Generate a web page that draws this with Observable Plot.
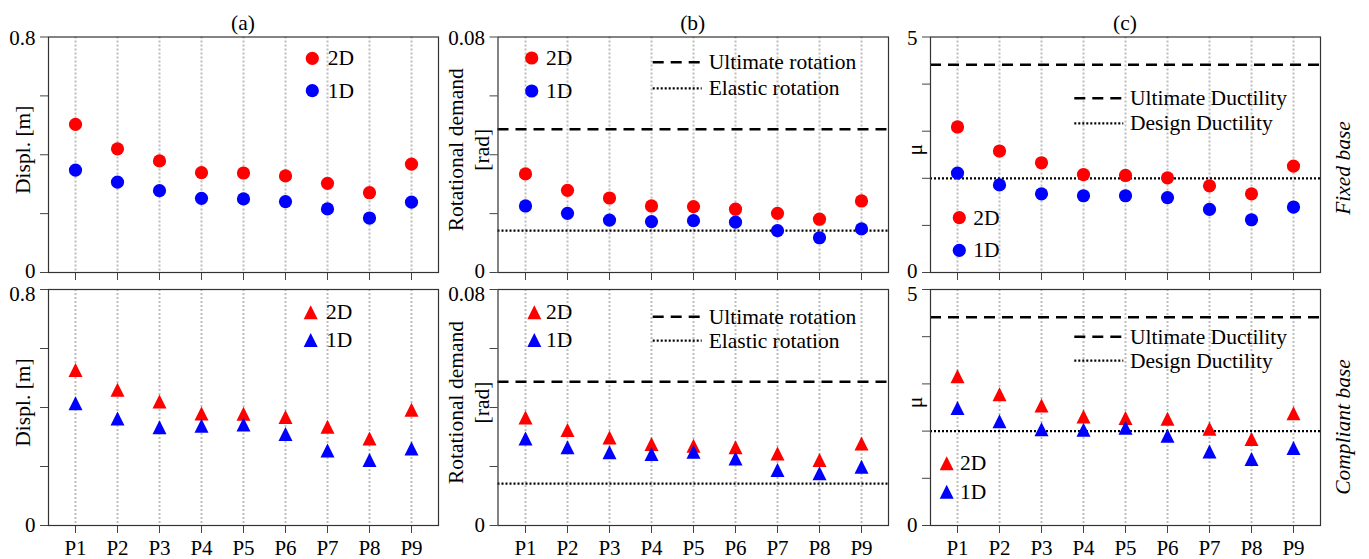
<!DOCTYPE html>
<html>
<head>
<meta charset="utf-8">
<script src="https://cdn.jsdelivr.net/npm/d3@7"></script>
<script src="https://cdn.jsdelivr.net/npm/@observablehq/plot@0.6"></script>
<style>
  html, body { margin: 0; padding: 0; background: #fff; }
  #chart { position: relative; width: 1369px; height: 559px; overflow: hidden; }
  #chart svg { position: absolute; }
</style>
</head>
<body>
<div id="chart"></div>
<script>
// ---------------- data ----------------
const cats = ["P1", "P2", "P3", "P4", "P5", "P6", "P7", "P8", "P9"];
const panelTitles = ["(a)", "(b)", "(c)"];
const rowLabels = ["Fixed base", "Compliant base"];
const seriesNames = ["2D", "1D"];

// Fixed base (circles)
const fixedDispl2D = [0.503, 0.420, 0.379, 0.339, 0.338, 0.328, 0.303, 0.271, 0.368];
const fixedDispl1D = [0.348, 0.307, 0.278, 0.252, 0.250, 0.241, 0.216, 0.185, 0.239];
const fixedRot2D = [0.0335, 0.0279, 0.0253, 0.0226, 0.0224, 0.0215, 0.0201, 0.0181, 0.0243];
const fixedRot1D = [0.0226, 0.0201, 0.0178, 0.0173, 0.0176, 0.0171, 0.0142, 0.0118, 0.0148];
const fixedMu2D = [3.09, 2.58, 2.33, 2.08, 2.06, 2.01, 1.84, 1.67, 2.26];
const fixedMu1D = [2.11, 1.86, 1.67, 1.63, 1.63, 1.59, 1.34, 1.12, 1.39];

// Compliant base (triangles)
const compDispl2D = [0.527, 0.460, 0.420, 0.380, 0.379, 0.368, 0.335, 0.295, 0.392];
const compDispl1D = [0.414, 0.363, 0.333, 0.338, 0.342, 0.310, 0.254, 0.222, 0.261];
const compRot2D = [0.0366, 0.0324, 0.0298, 0.0276, 0.0270, 0.0265, 0.0244, 0.0222, 0.0278];
const compRot1D = [0.0295, 0.0265, 0.0248, 0.0242, 0.0250, 0.0227, 0.0188, 0.0177, 0.0199];
const compMu2D = [3.16, 2.78, 2.54, 2.31, 2.28, 2.26, 2.05, 1.83, 2.38];
const compMu1D = [2.49, 2.21, 2.04, 2.03, 2.07, 1.90, 1.57, 1.41, 1.64];

// Reference lines
const ultimateRotation = [0.0487];
const elasticRotation = [0.0142];
const ultimateDuctility = [4.41];
const designDuctility = [2.0];

// Axes
const displTicks = [0, 0.2, 0.4, 0.6, 0.8];
const rotTicks = [0, 0.02, 0.04, 0.06, 0.08];
const muTicks = [0, 1, 2, 3, 4, 5];

// ---------------- layout / style ----------------
const FONT = "'Liberation Serif', 'Times New Roman', Times, serif";
const FS = 21.5;
const RED = "#ff0000", BLUE = "#0000ff";
const cols = [
  {left: 0, width: 445, ml: 48, mr: 7},
  {left: 445, width: 445, ml: 52.5, mr: 2},
  {left: 890, width: 479, ml: 40, mr: 49}
];
const rows = [
  {top: 0, height: 280, mt: 36.5, mb: 8, maxLabelShift: 1.3, zeroLabelShift: -1},
  {top: 280, height: 279, mt: 9, mb: 34, maxLabelShift: 5, zeroLabelShift: 0}
];

// matplotlib-like "^" triangle (base = height, centred on its bounding box)
const triangleUp = {
  draw(context, size) {
    const a = Math.sqrt(size / Math.PI);
    context.moveTo(0, -a);
    context.lineTo(a, a);
    context.lineTo(-a, a);
    context.closePath();
  }
};

const chart = document.getElementById("chart");

function shiftText(sel, px) {
  sel.each(function() {
    const el = d3.select(this);
    const dy = el.attr("dy");
    let base = 0;
    if (dy) base = dy.endsWith("em") ? parseFloat(dy) * 21 : parseFloat(dy);
    el.attr("dy", (base + px) + "px");
  });
}

function makePanel(spec) {
  const C = cols[spec.col], R = rows[spec.row];
  const d2 = cats.map((p, i) => ({p, v: spec.v2D[i]}));
  const d1 = cats.map((p, i) => ({p, v: spec.v1D[i]}));
  const yMax = spec.ticks[spec.ticks.length - 1];
  const symbol = spec.row === 0 ? "circle" : triangleUp;
  const symType = spec.row === 0 ? d3.symbolCircle : triangleUp;
  const r = spec.row === 0 ? 6.6 : 7;
  const marks = [
    Plot.ruleX(cats, {x: d => d, stroke: "#bdbdbd", strokeWidth: 2, strokeDasharray: "2,2"})
  ];
  if (spec.dashed) marks.push(Plot.ruleY(spec.dashed, {stroke: "#000", strokeWidth: 2.5, strokeDasharray: "11,7"}));
  if (spec.dotted) marks.push(Plot.ruleY(spec.dotted, {stroke: "#000", strokeWidth: 2.2, strokeDasharray: "2,2"}));
  marks.push(
    Plot.dot(d2, {x: "p", y: "v", fill: RED, r, symbol}),
    Plot.dot(d1, {x: "p", y: "v", fill: BLUE, r, symbol}),
    Plot.frame({stroke: "#333", strokeWidth: 1.2})
  );
  const svg = Plot.plot({
    width: C.width, height: R.height,
    marginLeft: C.ml, marginRight: C.mr, marginTop: R.mt, marginBottom: R.mb,
    style: {fontFamily: FONT, fontSize: "21px", background: "transparent", color: "#000", overflow: "visible"},
    x: {type: "point", domain: cats, padding: 0.62, tickSize: 8, tickPadding: 7,
        tickFormat: spec.row === 1 ? (d => d) : (() => ""), label: null},
    y: {domain: [0, yMax], ticks: spec.ticks, tickSize: 8, tickPadding: 5,
        tickFormat: d => (d === 0 || d === yMax) ? String(d) : "", label: null},
    marks
  });
  svg.style.left = C.left + "px";
  svg.style.top = R.top + "px";
  chart.appendChild(svg);
  // axis tick labels: serif, 21px
  const allText = d3.select(svg).selectAll("text");
  allText.attr("font-size", 21).attr("font-family", FONT);
  shiftText(allText.filter(function() { return this.textContent === String(yMax); }), R.maxLabelShift);
  shiftText(allText.filter(function() { return this.textContent === "0"; }), R.zeroLabelShift);
  d3.select(svg).selectAll(".tick line, g[aria-label$='tick'] path").attr("stroke", "#444");

  const g = d3.select(svg).append("g").attr("font-family", FONT).attr("fill", "#000")
    .attr("text-anchor", "start").attr("font-size", FS);
  const L = (x) => x - C.left, T = (y) => y - R.top;
  const fx0 = C.ml, fx1 = C.width - C.mr, fy0 = R.mt, fy1 = R.height - R.mb;
  const fcy = (fy0 + fy1) / 2;

  // panel title
  if (spec.row === 0) {
    g.append("text").attr("x", (fx0 + fx1) / 2).attr("y", 23.3)
      .attr("text-anchor", "middle").attr("dominant-baseline", "central")
      .text(panelTitles[spec.col]);
  }
  // y labels
  for (const yl of spec.ylabels) {
    g.append("text").attr("transform", `translate(${L(yl.x)},${fcy - 4.5}) rotate(-90)`)
      .attr("text-anchor", "middle").attr("dominant-baseline", "central")
      .text(yl.text);
  }
  // row label at right
  if (spec.col === 2) {
    g.append("text").attr("transform", `translate(${L(1343)},${spec.row === 0 ? 168 : 147}) rotate(-90)`)
      .attr("text-anchor", "middle").attr("dominant-baseline", "central")
      .attr("font-style", "italic").text(rowLabels[spec.row]);
  }
  // symbol legend
  const lg = spec.symLegend;
  const colors = [RED, BLUE];
  lg.ys.forEach((yy, i) => {
    const sym = d3.symbol(symType, r * r * Math.PI);
    g.append("path").attr("d", sym()).attr("fill", colors[i])
      .attr("transform", `translate(${L(lg.x)},${T(yy)})`);
    g.append("text").attr("x", L(lg.tx)).attr("y", T(yy))
      .attr("text-anchor", "start").attr("dominant-baseline", "central").text(seriesNames[i]);
  });
  // line legend
  if (spec.lineLegend) {
    const ll = spec.lineLegend;
    ll.items.forEach((it, i) => {
      g.append("line").attr("x1", L(ll.x0)).attr("x2", L(ll.x1))
        .attr("y1", T(ll.ys[i])).attr("y2", T(ll.ys[i]))
        .attr("stroke", "#000")
        .attr("stroke-width", i === 0 ? 2.5 : 2.2)
        .attr("stroke-dasharray", i === 0 ? "11,7" : "2,2");
      g.append("text").attr("x", L(ll.tx)).attr("y", T(ll.ys[i]))
        .attr("text-anchor", "start").attr("dominant-baseline", "central").text(it);
    });
  }
}

const rotLabels = [{x: 456, text: "Rotational demand"}, {x: 481.7, text: "[rad]"}];

// Row 0: fixed base
makePanel({col: 0, row: 0, ticks: displTicks, v2D: fixedDispl2D, v1D: fixedDispl1D,
  ylabels: [{x: 23.3, text: "Displ. [m]"}],
  symLegend: {x: 312.3, tx: 327.7, ys: [58.3, 90.7]}});
makePanel({col: 1, row: 0, ticks: rotTicks, v2D: fixedRot2D, v1D: fixedRot1D,
  dashed: ultimateRotation, dotted: elasticRotation, ylabels: rotLabels,
  symLegend: {x: 531.7, tx: 546, ys: [58, 91]},
  lineLegend: {x0: 652.7, x1: 701.7, tx: 708.7, ys: [62.3, 88.3], items: ["Ultimate rotation", "Elastic rotation"]}});
makePanel({col: 2, row: 0, ticks: muTicks, v2D: fixedMu2D, v1D: fixedMu1D,
  dashed: ultimateDuctility, dotted: designDuctility, ylabels: [{x: 915, text: "μ"}],
  symLegend: {x: 959.3, tx: 973.3, ys: [217.7, 250.3]},
  lineLegend: {x0: 1074.3, x1: 1123.3, tx: 1130, ys: [98.3, 123.3], items: ["Ultimate Ductility", "Design Ductility"]}});

// Row 1: compliant base
makePanel({col: 0, row: 1, ticks: displTicks, v2D: compDispl2D, v1D: compDispl1D,
  ylabels: [{x: 23.3, text: "Displ. [m]"}],
  symLegend: {x: 310.7, tx: 326, ys: [312.3, 340]}});
makePanel({col: 1, row: 1, ticks: rotTicks, v2D: compRot2D, v1D: compRot1D,
  dashed: ultimateRotation, dotted: elasticRotation, ylabels: rotLabels,
  symLegend: {x: 534.3, tx: 546, ys: [312.3, 340]},
  lineLegend: {x0: 652.7, x1: 701.7, tx: 708.7, ys: [316.7, 340.7], items: ["Ultimate rotation", "Elastic rotation"]}});
makePanel({col: 2, row: 1, ticks: muTicks, v2D: compMu2D, v1D: compMu1D,
  dashed: ultimateDuctility, dotted: designDuctility, ylabels: [{x: 915, text: "μ"}],
  symLegend: {x: 946.7, tx: 960, ys: [463.3, 491.7]},
  lineLegend: {x0: 1074.3, x1: 1123.3, tx: 1130, ys: [336.7, 360.7], items: ["Ultimate Ductility", "Design Ductility"]}});
</script>
</body>
</html>
